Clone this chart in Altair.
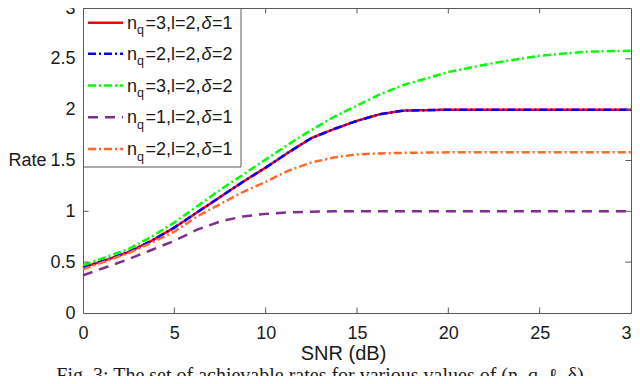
import altair as alt
import pandas as pd

# ---------------- data ----------------
SNR = [0, 1.25, 2.5, 3.75, 5, 6.25, 7.5, 8.75, 10, 11.25, 12.5, 13.75, 15, 16.25, 17.5, 20, 22.5, 25, 27.5, 30]

RATE_N3_L2_D1 = [0.45, 0.52, 0.60, 0.71, 0.84, 0.99, 1.14, 1.29, 1.43, 1.58, 1.72, 1.81, 1.89, 1.955, 1.99, 2.0, 2.0, 2.0, 2.0, 2.0]
RATE_N2_L2_D2 = [0.45, 0.52, 0.60, 0.71, 0.84, 0.99, 1.14, 1.29, 1.43, 1.58, 1.72, 1.81, 1.89, 1.955, 1.99, 2.0, 2.0, 2.0, 2.0, 2.0]
RATE_N3_L2_D2 = [0.47, 0.55, 0.63, 0.75, 0.89, 1.05, 1.21, 1.36, 1.51, 1.66, 1.80, 1.93, 2.04, 2.15, 2.24, 2.37, 2.46, 2.53, 2.57, 2.58]
RATE_N1_L2_D1 = [0.37, 0.45, 0.53, 0.62, 0.71, 0.82, 0.90, 0.95, 0.975, 0.99, 0.997, 1.0, 1.0, 1.0, 1.0, 1.0, 1.0, 1.0, 1.0, 1.0]
RATE_N2_L2_D1 = [0.43, 0.51, 0.59, 0.69, 0.80, 0.95, 1.07, 1.19, 1.29, 1.40, 1.48, 1.53, 1.56, 1.57, 1.575, 1.58, 1.58, 1.58, 1.58, 1.58]

SERIES_NQ = [3, 2, 3, 1, 2]
SERIES_L = [2, 2, 2, 2, 2]
SERIES_DELTA = [1, 2, 2, 1, 1]
SERIES_RATES = [RATE_N3_L2_D1, RATE_N2_L2_D2, RATE_N3_L2_D2, RATE_N1_L2_D1, RATE_N2_L2_D1]
SERIES_COLORS = ["#ff0000", "#0000ff", "#00ff00", "#7e2f8e", "#ff6929"]
SERIES_DASHES = [[1, 0], [8, 3, 2, 3], [8, 3, 2, 3], [10, 7], [8, 3, 2, 3]]

XTICKS = [0, 5, 10, 15, 20, 25, 30]
YTICKS = [0, 0.5, 1, 1.5, 2, 2.5, 3]
X_INNER_TICKS = [5, 10, 15, 20, 25]
Y_INNER_TICKS = [0.5, 1, 1.5, 2, 2.5]

X_TITLE = "SNR (dB)"
Y_TITLE = "Rate"
CAPTION = "Fig. 3: The set of achievable rates for various values of (n_q, \u2113, \u03b4)"

# ---------------- layout ----------------
W, H = 548, 305
FRAME = "#5a5a5a"
TEXT = "#1a1a1a"
SANS = "Liberation Sans"
LW = 2.5

xs = alt.Scale(domain=[0, 30], nice=False, zero=False)
ys = alt.Scale(domain=[0, 3], nice=False, zero=False)

x_axis = alt.Axis(values=XTICKS, format="d", ticks=False, tickSize=0, domain=False, grid=False,
                  labelPadding=11, labelFlush=False, labelOverlap=False,
                  labelFont=SANS, labelFontSize=18, labelColor=TEXT,
                  title=X_TITLE, titleFont=SANS, titleFontSize=20, titleFontWeight="normal",
                  titleColor=TEXT, titleX=260, titleY=40, titleAlign="center", titleBaseline="middle")
y_axis = alt.Axis(values=YTICKS, format="~g", ticks=False, tickSize=0, domain=False, grid=False,
                  labelPadding=8, labelFlush=False, labelOverlap=False,
                  labelFont=SANS, labelFontSize=18, labelColor=TEXT,
                  title=Y_TITLE, titleFont=SANS, titleFontSize=18, titleFontWeight="normal",
                  titleColor=TEXT, titleAngle=0, titleX=-75, titleY=152.5,
                  titleAlign="left", titleBaseline="middle")

layers = []

# data lines
for i, (rates, col, dash) in enumerate(zip(SERIES_RATES, SERIES_COLORS, SERIES_DASHES)):
    df = pd.DataFrame({"snr": SNR, "rate": rates})
    layers.append(alt.Chart(df).mark_line(color=col, strokeDash=dash, strokeWidth=LW).encode(
        x=alt.X("snr:Q", scale=xs, axis=x_axis),
        y=alt.Y("rate:Q", scale=ys, axis=y_axis),
    ))

# inward ticks on all four sides
xt = pd.DataFrame({"snr": X_INNER_TICKS})
yt = pd.DataFrame({"rate": Y_INNER_TICKS})
for y0, y1 in [(H, H - 5.5), (0, 5.5)]:
    layers.append(alt.Chart(xt).mark_rule(color=FRAME, strokeWidth=1).encode(
        x=alt.X("snr:Q", scale=xs, axis=x_axis), y=alt.value(y0), y2=alt.value(y1)))
for x0, x1 in [(0, 5.5), (W, W - 5.5)]:
    layers.append(alt.Chart(yt).mark_rule(color=FRAME, strokeWidth=1).encode(
        y=alt.Y("rate:Q", scale=ys, axis=y_axis), x=alt.value(x0), x2=alt.value(x1)))

# legend box
one = pd.DataFrame({"a": [0]})
layers.append(alt.Chart(one).mark_rect(fill="white", stroke=FRAME, strokeWidth=1).encode(
    x=alt.value(0.5), x2=alt.value(158), y=alt.value(0.5), y2=alt.value(159)))

def txt(s, x, y, size, italic=False, font=SANS, align="left", baseline="alphabetic"):
    return alt.Chart(pd.DataFrame({"t": [s]})).mark_text(
        align=align, baseline=baseline, font=font, fontSize=size, color=TEXT,
        fontStyle="italic" if italic else "normal").encode(
        text="t:N", x=alt.value(x), y=alt.value(y))

ROWS = [14.7, 45.8, 77.5, 109.2, 141]
for row, nq, l, d, col, dash in zip(ROWS, SERIES_NQ, SERIES_L, SERIES_DELTA, SERIES_COLORS, SERIES_DASHES):
    layers.append(alt.Chart(one).mark_rule(color=col, strokeDash=dash, strokeWidth=LW).encode(
        x=alt.value(5), x2=alt.value(40), y=alt.value(row)))
    layers.append(txt("n", 44, row + 6, 18))
    layers.append(txt("q", 54, row + 11.5, 12.5))
    layers.append(txt(f"={nq},l={l},", 62.5, row + 6, 18))
    layers.append(txt("\u03b4", 118.5, row + 6, 18, italic=True))
    layers.append(txt(f"={d}", 129, row + 6, 18))

# caption (cut off at the bottom, as in the reference)
layers.append(txt(CAPTION, 237, 358, 20, font="Liberation Serif", align="center", baseline="top"))

chart = alt.layer(*layers).properties(
    width=W, height=H,
    padding={"left": 75, "top": 0, "right": 1, "bottom": 63},
    autosize=alt.AutoSizeParams(type="none"),
    background="white",
).configure_view(stroke=FRAME, strokeWidth=1)

chart.save("out.html", embed_options={"renderer": "svg", "actions": False})
